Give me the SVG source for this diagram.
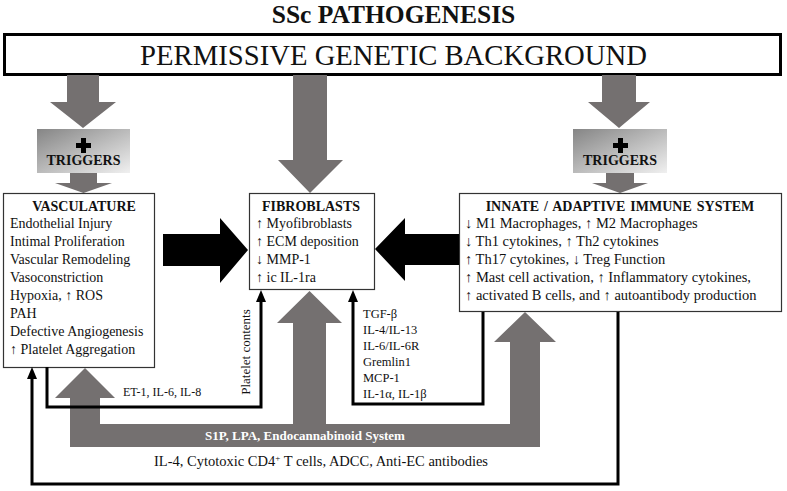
<svg xmlns="http://www.w3.org/2000/svg" width="787" height="491" viewBox="0 0 787 491">
<style>
.serif{font-family:"Liberation Serif","Times New Roman",serif;fill:#111}
.b{font-weight:bold}
.t14{font-size:14px}
.box{fill:#fff;stroke:#333;stroke-width:1.2}
.gray{fill:#747070}
.blk{fill:#000}
.line{fill:none;stroke:#000;stroke-width:3}
.trig{fill:url(#tg)}
</style>
<defs>
<linearGradient id="tg" x1="0" y1="0" x2="1" y2="1">
<stop offset="0" stop-color="#858585"/>
<stop offset="1" stop-color="#f0f0f0"/>
</linearGradient>
<marker id="ah" markerUnits="userSpaceOnUse" markerWidth="12" markerHeight="10" viewBox="0 0 12 10" refX="4" refY="5" orient="auto">
<path d="M0,0 L12,5 L0,10 Z" fill="#000"/>
</marker>
</defs>

<text class="serif b" x="393.5" y="23" font-size="25.5" text-anchor="middle">SSc PATHOGENESIS</text>

<g id="genetic">
<rect x="4.5" y="34.5" width="776" height="40" fill="#fff" stroke="#000" stroke-width="3"/>
<text class="serif" x="393.5" y="65" font-size="28.7" text-anchor="middle">PERMISSIVE GENETIC BACKGROUND</text>
</g>

<g id="top-arrows">
<polygon class="gray" points="67,75 99,75 99,102 116,102 83,128 50,102 67,102"/>
<polygon class="gray" points="293,75 327,75 327,160 343,160 310,193 278,160 293,160"/>
<polygon class="gray" points="602,75 636,75 636,102 650,102 619,128 588,102 602,102"/>
<polygon class="gray" points="70,173 97,173 97,183 112,183 83.5,193 55,183 70,183"/>
<polygon class="gray" points="606,173 634,173 634,183 648,183 620,193 592,183 606,183"/>
</g>

<g id="triggers-left">
<rect class="trig" x="37" y="129" width="93" height="44"/>
<path class="blk" d="M81,138 h5 v5 h5 v5 h-5 v5 h-5 v-5 h-5 v-5 h5 z"/>
<text class="serif b t14" x="83.5" y="165" text-anchor="middle">TRIGGERS</text>
</g>

<g id="triggers-right">
<rect class="trig" x="573" y="129" width="94" height="44"/>
<path class="blk" d="M618,138 h5 v5 h5 v5 h-5 v5 h-5 v-5 h-5 v-5 h5 z"/>
<text class="serif b t14" x="620" y="165" text-anchor="middle">TRIGGERS</text>
</g>

<g id="vasculature">
<rect class="box" x="3.5" y="193.5" width="151" height="174"/>
<text class="serif b t14" x="84" y="211" text-anchor="middle">VASCULATURE</text>
<text class="serif t14">
<tspan x="10" y="228">Endothelial Injury</tspan>
<tspan x="10" y="246">Intimal Proliferation</tspan>
<tspan x="10" y="264">Vascular Remodeling</tspan>
<tspan x="10" y="282">Vasoconstriction</tspan>
<tspan x="10" y="300">Hypoxia, ↑ ROS</tspan>
<tspan x="10" y="318">PAH</tspan>
<tspan x="10" y="336">Defective Angiogenesis</tspan>
<tspan x="10" y="354">↑ Platelet Aggregation</tspan>
</text>
</g>

<g id="fibroblasts">
<rect class="box" x="249.5" y="193.5" width="125" height="96"/>
<text class="serif b t14" x="311" y="211" text-anchor="middle">FIBROBLASTS</text>
<text class="serif t14">
<tspan x="256" y="228">↑ Myofibroblasts</tspan>
<tspan x="256" y="246">↑ ECM deposition</tspan>
<tspan x="256" y="264">↓ MMP-1</tspan>
<tspan x="256" y="282">↑ ic IL-1ra</tspan>
</text>
</g>

<g id="immune">
<rect class="box" x="459.5" y="193.5" width="322" height="118"/>
<text class="serif b t14" x="620" y="211" text-anchor="middle" word-spacing="1.5">INNATE / ADAPTIVE IMMUNE SYSTEM</text>
<text class="serif" font-size="14.5">
<tspan x="465" y="228">↓ M1 Macrophages, ↑ M2 Macrophages</tspan>
<tspan x="465" y="246">↓ Th1 cytokines, ↑ Th2 cytokines</tspan>
<tspan x="465" y="264">↑ Th17 cytokines, ↓ Treg Function</tspan>
<tspan x="465" y="282">↑ Mast cell activation, ↑ Inflammatory  cytokines,</tspan>
<tspan x="465" y="300">↑ activated B cells, and ↑ autoantibody production</tspan>
</text>
</g>

<g id="connectors">
<polygon class="blk" points="163,234 220,234 220,218 248,250 220,283 220,266 163,266"/>
<polygon class="blk" points="459,234 405,234 405,218 375,249 405,281 405,265 459,265"/>
<path class="gray" d="M70,447 V398 H55 L85,368 L115,398 H100 V424 H293 V323 H277 L309.5,291 L342,323 H326 V424 H510 V342 H494 L525,312 L556,342 H540 V447 Z"/>
<path class="line" d="M47,367 V407 H261 V298" marker-end="url(#ah)"/>
<path class="line" d="M483,312 V404 H353 V298" marker-end="url(#ah)"/>
<path class="line" d="M618,312 V484 H32 V375" marker-end="url(#ah)"/>
<text class="serif" x="123" y="396" font-size="12">ET-1, IL-6, IL-8</text>
<text class="serif" font-size="13" text-anchor="middle" transform="translate(250,352) rotate(-90)">Platelet contents</text>
<text class="serif" font-size="12.5">
<tspan x="363" y="318">TGF-β</tspan>
<tspan x="363" y="334">IL-4/IL-13</tspan>
<tspan x="363" y="350">IL-6/IL-6R</tspan>
<tspan x="363" y="366">Gremlin1</tspan>
<tspan x="363" y="382">MCP-1</tspan>
<tspan x="363" y="398">IL-1α, IL-1β</tspan>
</text>
<text x="305" y="440" font-family="Liberation Serif, Times New Roman, serif" font-weight="bold" font-size="13" fill="#fff" text-anchor="middle">S1P, LPA, Endocannabinoid System</text>
<text class="serif" font-size="14.5" x="321" y="466" text-anchor="middle">IL-4, Cytotoxic CD4<tspan font-size="9" dy="-5">+</tspan><tspan dy="5"> T cells, ADCC, Anti-EC antibodies</tspan></text>
</g>
</svg>
